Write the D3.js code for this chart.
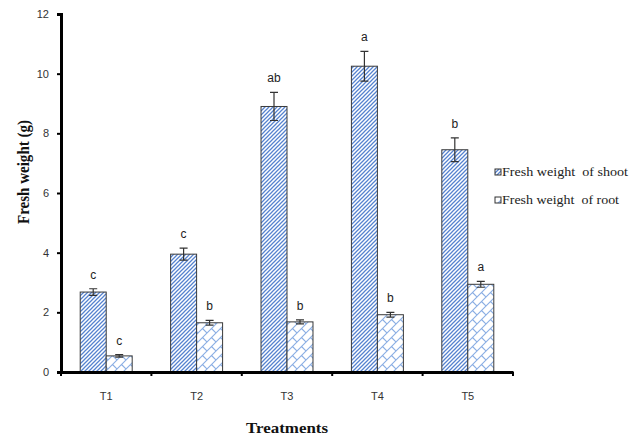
<!DOCTYPE html>
<html>
<head>
<meta charset="utf-8">
<script src="https://cdn.jsdelivr.net/npm/d3@7"></script>
<style>
  body { margin: 0; background: #fff; }
  svg { display: block; }
</style>
</head>
<body>
<div id="chart"></div>
<script>
// data
const treatments = ["T1", "T2", "T3", "T4", "T5"];
const seriesNames = ["Fresh weight  of shoot", "Fresh weight  of root"];
const shootValues = [2.68, 3.95, 8.9, 10.25, 7.45];
const shootErrors = [0.11, 0.2, 0.47, 0.5, 0.4];
const shootLetters = ["c", "c", "ab", "a", "b"];
const rootValues = [0.54, 1.65, 1.68, 1.92, 2.94];
const rootErrors = [0.04, 0.08, 0.07, 0.08, 0.1];
const rootLetters = ["c", "b", "b", "b", "a"];
const yTicks = [0, 2, 4, 6, 8, 10, 12];

const width = 639, height = 437;

const svg = d3.select("#chart").append("svg")
  .attr("width", width)
  .attr("height", height);

// patterns
const defs = svg.append("defs");
const stripe = defs.append("pattern")
  .attr("id", "stripe")
  .attr("patternUnits", "userSpaceOnUse")
  .attr("width", 4).attr("height", 4);
stripe.append("rect").attr("width", 4).attr("height", 4).attr("fill", "#ffffff");
stripe.append("path")
  .attr("d", "M-1,1 L1,-1 M0,4 L4,0 M3,5 L5,3")
  .attr("stroke", "#5582cf")
  .attr("stroke-width", 1.25);

const brick = defs.append("pattern")
  .attr("id", "brick")
  .attr("patternUnits", "userSpaceOnUse")
  .attr("width", 9).attr("height", 9);
brick.append("rect").attr("width", 9).attr("height", 9).attr("fill", "#ffffff");
brick.append("path")
  .attr("d", "M0,9 L9,0 M4.5,4.5 L9,9 M-1,1 L1,-1 M8,10 L10,8")
  .attr("stroke", "#8aaee4")
  .attr("stroke-width", 1.1);

// scales
const x = d3.scaleBand()
  .domain(treatments)
  .range([61, 513])
  .paddingInner(0.425)
  .paddingOuter(0.2125);

const inner = d3.scaleBand()
  .domain(["shoot", "root"])
  .range([0, x.bandwidth()]);

const y = d3.scaleLinear()
  .domain([0, 12])
  .range([372, 14]);

const rows = treatments.map((t, i) => [
  { t, key: "shoot", v: shootValues[i], e: shootErrors[i], l: shootLetters[i] },
  { t, key: "root", v: rootValues[i], e: rootErrors[i], l: rootLetters[i] }
]).flat();

// bars
svg.selectAll("rect.bar")
  .data(rows)
  .enter()
  .append("rect")
  .attr("class", "bar")
  .attr("x", d => x(d.t) + inner(d.key))
  .attr("y", d => y(d.v))
  .attr("width", inner.bandwidth())
  .attr("height", d => y(0) - y(d.v))
  .attr("fill", d => d.key === "shoot" ? "url(#stripe)" : "url(#brick)")
  .attr("stroke", "#3a3a3a")
  .attr("stroke-width", 1);

// error bars
const cx = d => x(d.t) + inner(d.key) + inner.bandwidth() / 2;
const err = svg.append("g").attr("stroke", "#333").attr("stroke-width", 1.2);
err.selectAll("path")
  .data(rows)
  .enter()
  .append("path")
  .attr("fill", "none")
  .attr("d", d => {
    const c = cx(d), t = y(d.v + d.e), b = y(d.v - d.e);
    return `M${c},${t} V${b} M${c - 4},${t} H${c + 4} M${c - 4},${b} H${c + 4}`;
  });

// letters
svg.selectAll("text.letter")
  .data(rows)
  .enter()
  .append("text")
  .attr("class", "letter")
  .attr("x", cx)
  .attr("y", d => y(d.v + d.e) - 10)
  .attr("text-anchor", "middle")
  .attr("font-family", "Liberation Sans, Arial, sans-serif")
  .attr("font-size", 12)
  .attr("fill", "#222")
  .text(d => d.l);

// y axis
const yAxis = svg.append("g")
  .attr("transform", "translate(61,0)")
  .call(d3.axisLeft(y).tickValues(yTicks).tickSize(4).tickPadding(8));
yAxis.select(".domain").attr("stroke", "#000").attr("stroke-width", 3);
yAxis.selectAll(".tick line").attr("stroke", "#000").attr("stroke-width", 2);
yAxis.selectAll(".tick text")
  .attr("font-family", "Liberation Sans, Arial, sans-serif")
  .attr("font-size", 11)
  .attr("fill", "#333");

// x axis
const xAxis = svg.append("g")
  .attr("transform", "translate(0,372)")
  .call(d3.axisBottom(x).tickSize(0).tickPadding(20).tickSizeOuter(0));
xAxis.select(".domain").attr("stroke", "#000").attr("stroke-width", 3);
xAxis.selectAll(".tick text")
  .attr("font-family", "Liberation Sans, Arial, sans-serif")
  .attr("font-size", 11)
  .attr("fill", "#333");

// boundary ticks between treatments
const bounds = d3.range(treatments.length + 1).map(i => x.range()[0] + i * x.step());
xAxis.selectAll("line.bound")
  .data(bounds)
  .enter()
  .append("line")
  .attr("class", "bound")
  .attr("x1", d => d).attr("x2", d => d)
  .attr("y1", 0).attr("y2", 4)
  .attr("stroke", "#000")
  .attr("stroke-width", 2);

// axis titles
svg.append("text")
  .attr("transform", "translate(29,172) rotate(-90)")
  .attr("text-anchor", "middle")
  .attr("font-family", "Liberation Serif, Times New Roman, serif")
  .attr("font-weight", "bold")
  .attr("font-size", 16)
  .attr("fill", "#111")
  .attr("textLength", 104)
  .attr("lengthAdjust", "spacingAndGlyphs")
  .text("Fresh weight (g)");

svg.append("text")
  .attr("x", 287)
  .attr("y", 433)
  .attr("text-anchor", "middle")
  .attr("font-family", "Liberation Serif, Times New Roman, serif")
  .attr("font-weight", "bold")
  .attr("font-size", 15)
  .attr("fill", "#111")
  .attr("textLength", 82)
  .attr("lengthAdjust", "spacingAndGlyphs")
  .text("Treatments");

// legend
const legendWidths = [126, 117];
const legend = svg.append("g").attr("transform", "translate(495,169)");
const items = legend.selectAll("g")
  .data(seriesNames)
  .enter()
  .append("g")
  .attr("transform", (d, i) => `translate(0,${i * 28})`);
items.append("rect")
  .attr("width", 6).attr("height", 6)
  .attr("fill", (d, i) => i === 0 ? "url(#stripe)" : "url(#brick)")
  .attr("stroke", "#333")
  .attr("stroke-width", 1);
items.append("text")
  .attr("x", 7)
  .attr("y", 7)
  .attr("font-family", "Liberation Serif, Times New Roman, serif")
  .attr("font-size", 12.5)
  .attr("fill", "#222")
  .attr("textLength", (d, i) => legendWidths[i])
  .attr("lengthAdjust", "spacingAndGlyphs")
  .style("white-space", "pre")
  .text(d => d);
</script>
</body>
</html>
